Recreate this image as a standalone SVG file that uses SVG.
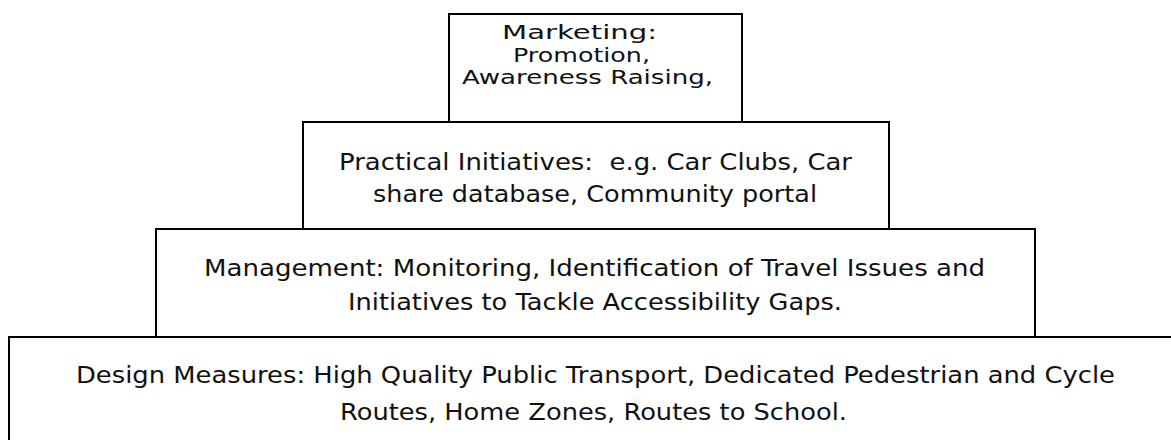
<svg xmlns="http://www.w3.org/2000/svg" width="1171" height="440" viewBox="0 0 1171 440">
<style>
.box{fill:#fff;stroke:#000;stroke-width:2}
.t{font-family:"DejaVu Sans","Verdana",sans-serif;font-size:23.5px;fill:#111}
.s{font-size:20px}
</style>
<rect x="0" y="0" width="1171" height="440" fill="#fff"/>
<g id="design">
<rect class="box" x="9" y="337" width="1200" height="150"/>
<text class="t" x="76" y="383" textLength="1039" lengthAdjust="spacingAndGlyphs">Design Measures: High Quality Public Transport, Dedicated Pedestrian and Cycle</text>
<text class="t" x="340" y="420" textLength="507" lengthAdjust="spacingAndGlyphs">Routes, Home Zones, Routes to School.</text>
</g>
<g id="management">
<rect class="box" x="156" y="229" width="879" height="108"/>
<text class="t" x="204" y="276" textLength="781" lengthAdjust="spacingAndGlyphs">Management: Monitoring, Identification of Travel Issues and</text>
<text class="t" x="348" y="310" textLength="494" lengthAdjust="spacingAndGlyphs">Initiatives to Tackle Accessibility Gaps.</text>
</g>
<g id="practical">
<rect class="box" x="303" y="122" width="586" height="107"/>
<text class="t" x="339" y="169.5" textLength="513" lengthAdjust="spacingAndGlyphs" xml:space="preserve" style="white-space:pre">Practical Initiatives:  e.g. Car Clubs, Car</text>
<text class="t" x="373" y="202" textLength="444" lengthAdjust="spacingAndGlyphs">share database, Community portal</text>
</g>
<g id="marketing">
<rect class="box" x="449" y="14" width="293" height="108"/>
<text class="t s" x="502" y="39" textLength="155" lengthAdjust="spacingAndGlyphs">Marketing:</text>
<text class="t s" x="513" y="61.5" textLength="137" lengthAdjust="spacingAndGlyphs">Promotion,</text>
<text class="t s" x="462" y="84" textLength="251" lengthAdjust="spacingAndGlyphs">Awareness Raising,</text>
</g>
<g id="connectors"></g>
</svg>
